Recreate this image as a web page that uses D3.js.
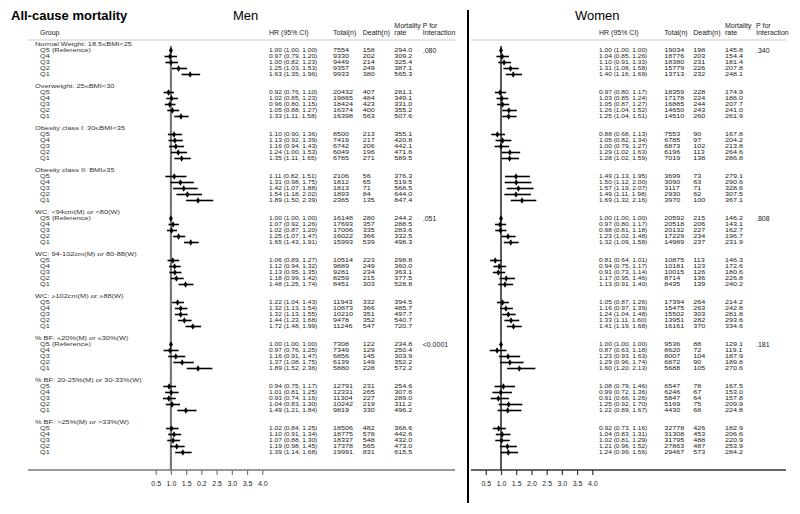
<!DOCTYPE html>
<html><head><meta charset="utf-8">
<script src="https://cdn.jsdelivr.net/npm/d3@7/dist/d3.min.js"></script>
<style>
body{margin:0;background:#fff}
svg{display:block}
text{font-family:"Liberation Sans",Arial,sans-serif;fill:#1a1a1a}
</style>
</head><body>
<svg id="chart" width="800" height="514"></svg>
<script>
// ---------- DATA ----------
const groupLabels = [
  "Normal Weight: 18.5\u2264BMI<25",
  "Overweight: 25\u2264BMI<30",
  "Obesity class I: 30\u2264BMI<35",
  "Obesity class II: BMI\u226535",
  "WC: <94cm(M) or <80(W)",
  "WC: 94-102cm(M) or 80-88(W)",
  "WC: \u2265102cm(M) or \u226588(W)",
  "% BF: \u226420%(M) or \u226430%(W)",
  "% BF: 20-25%(M) or 30-33%(W)",
  "% BF: >25%(M) or >33%(W)"
];
const quintiles = ["Q5","Q4","Q3","Q2","Q1"];
const referenceGroups = [0,4,7];

const menHR = [1.00,0.97,1.00,1.25,1.63, 0.92,1.02,0.96,1.05,1.33, 1.10,1.13,1.16,1.24,1.35, 1.11,1.31,1.42,1.54,1.89,
  1.00,1.07,1.02,1.25,1.65, 1.06,1.12,1.13,1.18,1.48, 1.22,1.32,1.32,1.44,1.72,
  1.00,0.97,1.16,1.37,1.89, 0.94,1.01,0.93,1.04,1.49, 1.02,1.10,1.07,1.19,1.39];
const menLo = [1.00,0.79,0.82,1.03,1.35, 0.76,0.85,0.80,0.88,1.11, 0.90,0.92,0.94,1.00,1.11, 0.82,0.98,1.07,1.18,1.50,
  1.00,0.92,0.87,1.07,1.43, 0.89,0.94,0.95,0.99,1.25, 1.04,1.13,1.13,1.23,1.48,
  1.00,0.76,0.91,1.08,1.52, 0.75,0.81,0.74,0.83,1.21, 0.84,0.91,0.88,0.98,1.14];
const menHi = [1.00,1.20,1.23,1.53,1.96, 1.10,1.23,1.15,1.27,1.58, 1.36,1.39,1.43,1.53,1.65, 1.51,1.75,1.88,2.02,2.39,
  1.00,1.26,1.20,1.47,1.91, 1.27,1.32,1.35,1.42,1.74, 1.43,1.54,1.55,1.68,1.99,
  1.00,1.25,1.47,1.75,2.36, 1.17,1.25,1.16,1.30,1.84, 1.25,1.34,1.30,1.45,1.68];
const menTotal = [7554,9330,9449,9357,9933, 20432,19865,18424,16374,16398, 8500,7419,6742,6049,6785, 2106,1812,1813,1893,2365,
  16148,17693,17006,16022,15993, 10514,9889,9281,8259,8451, 11943,10873,10210,9478,11246,
  7308,7349,6856,6139,5880, 12791,12331,11304,10242,9819, 18506,18775,18337,17378,19991];
const menDeath = [158,202,214,249,380, 407,484,423,400,563, 213,217,206,196,271, 56,65,71,84,135,
  280,357,335,366,539, 223,249,234,215,303, 332,366,351,352,547,
  122,129,145,149,228, 231,265,227,219,330, 482,578,548,565,831];
const menRate = ["294.0","309.2","325.4","387.1","565.3", "281.1","349.1","331.0","355.2","507.6",
  "355.1","420.8","442.1","471.6","589.5", "376.3","519.5","568.5","644.0","847.4",
  "244.2","288.5","283.6","332.5","498.3", "298.8","360.0","363.1","377.5","528.8",
  "394.5","485.7","497.7","540.7","720.7", "234.8","250.4","303.9","352.2","572.2",
  "254.6","307.6","289.0","311.2","496.2", "368.6","442.6","432.0","473.0","615.5"];
const menP = [".080","","","",".051","","","<0.0001","",""];

const womenHR = [1.00,1.04,1.10,1.31,1.40, 0.97,1.03,1.05,1.26,1.25, 0.88,1.05,1.00,1.29,1.28, 1.49,1.50,1.57,1.49,1.69,
  1.00,0.97,0.98,1.23,1.32, 0.81,0.94,0.91,1.17,1.13, 1.05,1.16,1.24,1.33,1.41,
  1.00,0.87,1.23,1.29,1.60, 1.08,0.99,0.91,1.25,1.22, 0.92,1.04,1.02,1.21,1.24];
const womenLo = [1.00,0.85,0.91,1.08,1.16, 0.80,0.85,0.87,1.04,1.04, 0.68,0.82,0.79,1.02,1.02, 1.13,1.12,1.19,1.11,1.32,
  1.00,0.80,0.81,1.02,1.09, 0.64,0.75,0.73,0.95,0.91, 0.87,0.97,1.04,1.11,1.19,
  1.00,0.63,0.93,0.96,1.20, 0.79,0.72,0.66,0.92,0.89, 0.73,0.83,0.81,0.96,0.99];
const womenHi = [1.00,1.26,1.33,1.58,1.69, 1.17,1.24,1.27,1.52,1.51, 1.13,1.34,1.27,1.63,1.59, 1.95,2.00,2.07,1.98,2.16,
  1.00,1.17,1.18,1.48,1.58, 1.01,1.17,1.14,1.46,1.40, 1.26,1.39,1.48,1.60,1.68,
  1.00,1.18,1.63,1.74,2.13, 1.46,1.36,1.26,1.70,1.67, 1.16,1.31,1.29,1.52,1.56];
const womenTotal = [19034,18776,18380,15779,13713, 18359,17178,16885,14650,14510, 7553,6785,6873,6196,7019, 3699,3090,3117,2930,3970,
  20592,20518,20132,17229,14989, 10875,10181,10015,8714,8435, 17394,15475,15502,13951,16161,
  9536,8620,8007,6872,5688, 6547,6246,5847,5169,4430, 32778,31308,31795,27863,29467];
const womenDeath = [198,203,231,226,232, 228,224,244,243,260, 90,97,102,113,138, 73,63,71,62,100,
  215,206,227,234,237, 113,123,126,136,139, 264,263,303,282,370,
  88,72,104,90,105, 78,67,64,75,68, 426,453,488,487,573];
const womenRate = ["145.8","154.4","181.4","207.8","248.1", "174.9","186.0","207.7","241.0","261.9",
  "167.8","204.2","213.8","264.6","286.8", "279.1","290.6","328.6","307.5","367.1",
  "146.2","143.1","162.7","196.7","231.9", "146.3","172.6","180.6","226.8","240.2",
  "214.2","242.8","281.8","293.6","334.6", "129.1","119.1","187.9","189.8","270.6",
  "167.5","153.0","157.8","209.9","224.8", "182.9","206.6","220.9","253.9","284.2"];
const womenP = [".340","","","",".808","","",".181","",""];

const tickValues = [0.5,1.0,1.5,2.0,2.5,3.0,3.5,4.0];
const menTickLabels = ["0.5","1.0","1.5","0.2","2.5","3.0","3.5","4.0"];
const womenTickLabels = ["0.5","1.0","1.5","2.0","2.5","3.0","3.5","4.0"];

// ---------- DRAW ----------
const svg = d3.select("#chart");
const f2 = d3.format(".2f");
const slotsPerGroup = 7;
const y = d3.scaleLinear().domain([0, 9*slotsPerGroup + 5]).range([44.5, 452.5]);
const axisY = 470;
const squish = 0.68;

svg.append("text").attr("x", 11).attr("y", 19.5)
  .style("font-size","13px").style("font-weight","bold").style("fill","#000")
  .text("All-cause mortality");

// divider
svg.append("line").attr("x1",468).attr("x2",468).attr("y1",10).attr("y2",503)
  .attr("stroke","#000").attr("stroke-width",2);

function rows(hr, lo, hi, total, death, rate) {
  const out = [];
  for (let g = 0; g < groupLabels.length; g++) {
    for (let i = 0; i < 5; i++) {
      const k = g*5 + i;
      out.push({g, i, slot: g*slotsPerGroup + i + 1, hr: hr[k], lo: lo[k], hi: hi[k],
        total: total[k], death: death[k], rate: rate[k]});
    }
  }
  return out;
}

function panel(cfg) {
  const G = svg.append("g");
  const x = d3.scaleLinear().domain([0.5, 4]).range(cfg.range);
  const data = rows(cfg.hr, cfg.lo, cfg.hi, cfg.total, cfg.death, cfg.rate);

  G.append("text").attr("x", cfg.titleX).attr("y", 20).style("font-size","13px").style("fill","#000").text(cfg.title);

  // header
  const hs = "7px";
  if (cfg.showGroup) G.append("text").attr("x", 40).attr("y", 34.8).style("font-size", hs).text("Group");
  G.append("text").attr("x", cfg.cols[0]).attr("y", 34.8).style("font-size", hs).text("HR (95% CI)");
  G.append("text").attr("x", cfg.cols[1]).attr("y", 34.8).style("font-size", hs).text("Total(n)");
  G.append("text").attr("x", cfg.cols[2]).attr("y", 34.8).style("font-size", hs).text("Death(n)");
  G.append("text").attr("x", cfg.cols[3]).attr("y", 28.3).style("font-size", hs).text("Mortality");
  G.append("text").attr("x", cfg.cols[3]).attr("y", 34.8).style("font-size", hs).text("rate");
  G.append("text").attr("x", cfg.cols[4]).attr("y", 28.3).style("font-size", hs).text("P for");
  G.append("text").attr("x", cfg.cols[4]).attr("y", 34.8).style("font-size", hs).text("Interaction");
  G.append("line").attr("x1", cfg.line[0]).attr("x2", cfg.line[1]).attr("y1", 40).attr("y2", 40)
    .attr("stroke", "#c8c8c8").attr("stroke-width", 1);

  // reference line
  G.append("line").attr("x1", x(1)).attr("x2", x(1)).attr("y1", 46).attr("y2", axisY)
    .attr("stroke", cfg.refColor).attr("stroke-width", cfg.refWidth);

  // axis
  G.append("line").attr("x1", cfg.line[0]).attr("x2", cfg.line[1]).attr("y1", axisY).attr("y2", axisY)
    .attr("stroke", cfg.axisColor).attr("stroke-width", 1.3);
  const ax = G.append("g").attr("transform", `translate(0,${axisY})`)
    .call(d3.axisBottom(x).tickValues(tickValues).tickSize(5).tickPadding(6.5)
      .tickFormat((d,i) => cfg.tickLabels[i]));
  ax.select(".domain").remove();
  ax.selectAll(".tick line").attr("stroke", cfg.axisColor).attr("stroke-width", 1.2);
  ax.selectAll(".tick text").style("font-size","7px").style("font-family","'Liberation Sans',Arial,sans-serif").attr("fill","#333");

  // row text helper: vertically compressed like the reference
  const rowText = (sel, xp, yp, size, fill) => sel
    .attr("x", 0).attr("y", 0).attr("dy", "0.35em")
    .attr("transform", (d,i) => `translate(${typeof xp === "function" ? xp(d,i) : xp},${yp(d,i)}) scale(1,${squish})`)
    .style("font-size", size).style("fill", fill);

  // group and quintile labels
  if (cfg.showGroup) {
    G.selectAll(".glab").data(groupLabels).join("text").text(d => d)
      .call(rowText, 35, (d,g) => y(g*slotsPerGroup), "7.4px", "#333");
    G.selectAll(".qlab").data(data).join("text")
      .text(d => (d.i === 0 && referenceGroups.includes(d.g)) ? "Q5 (Reference)" : quintiles[d.i])
      .call(rowText, 40, d => y(d.slot), "7.4px", "#333");
  }

  // CI lines and markers
  G.selectAll(".ci").data(data.filter(d => d.hi > d.lo)).join("line")
    .attr("x1", d => x(d.lo)).attr("x2", d => x(d.hi))
    .attr("y1", d => y(d.slot)).attr("y2", d => y(d.slot))
    .attr("stroke", "#000").attr("stroke-width", 1.6);
  G.selectAll(".pt").data(data).join("path")
    .attr("d", d3.symbol(d3.symbolDiamond).size(13))
    .attr("transform", d => `translate(${x(d.hr)},${y(d.slot)})`)
    .attr("fill", "#000");

  // text columns
  const ns = "6.6px", ns2 = "7.2px";
  const txt = (cls, xp, fn, size) => G.selectAll("." + cls).data(data).join("text").text(fn)
      .call(rowText, xp, d => y(d.slot), size, "#222");
  txt("hrT", cfg.cols[0], d => `${f2(d.hr)} (${f2(d.lo)}, ${f2(d.hi)})`, ns);
  txt("totT", cfg.cols[1], d => d.total, ns2);
  txt("dthT", cfg.cols[2], d => d.death, ns2);
  txt("rateT", cfg.cols[3], d => d.rate, ns2);
  G.selectAll(".pT").data(cfg.p).join("text").text(d => d)
    .attr("x", cfg.cols[4]).attr("y", (d,g) => y(g*slotsPerGroup + 1)).attr("dy","0.35em")
    .style("font-size", "7px").style("fill","#222");
}

panel({
  title: "Men", titleX: 233, showGroup: true,
  range: [155.7, 262.3], cols: [269, 333, 362.7, 394.3, 422.7], line: [28, 455],
  refColor: "#7a7a7a", refWidth: 2.2, axisColor: "#777",
  tickLabels: menTickLabels,
  hr: menHR, lo: menLo, hi: menHi, total: menTotal, death: menDeath, rate: menRate, p: menP
});
panel({
  title: "Women", titleX: 575, showGroup: false,
  range: [485.8, 592.3], cols: [599, 664.3, 693.3, 725, 756], line: [471, 786],
  refColor: "#000", refWidth: 1.3, axisColor: "#333",
  tickLabels: womenTickLabels,
  hr: womenHR, lo: womenLo, hi: womenHi, total: womenTotal, death: womenDeath, rate: womenRate, p: womenP
});
</script>
</body></html>
